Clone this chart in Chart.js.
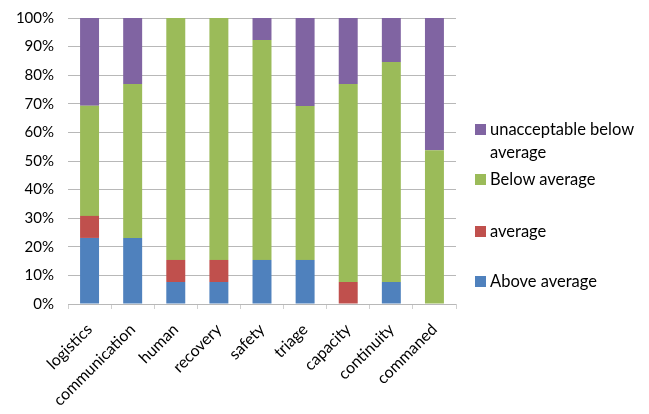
<!DOCTYPE html>
<html>
<head>
<meta charset="utf-8">
<script src="https://cdn.jsdelivr.net/npm/chart.js@4"></script>
<style>
  body { margin: 0; background: #fff; }
  #wrap { position: relative; width: 649px; height: 414px; overflow: hidden; }
  #chart { position: absolute; left: 0; top: -5px; }
  #legend { position: absolute; left: 475px; top: 0; font-family: Lato, "Open Sans", sans-serif; font-size: 16.5px; color: #000; }
  .item { position: absolute; left: 0; width: 172px; padding-left: 15px; line-height: 23px; }
  .item span { position: absolute; left: 0; top: 6px; width: 11px; height: 11px; }
</style>
</head>
<body>
<div id="wrap">
  <canvas id="chart" width="649" height="419"></canvas>
  <div id="legend"></div>
</div>
<script>
const categories = ["logistics", "communication", "human", "recovery", "safety", "triage", "capacity", "continuity", "commaned"];
const aboveAverage = [23.1, 23.1, 7.7, 7.7, 15.4, 15.4, 0, 7.7, 0];
const average = [7.7, 0, 7.7, 7.7, 0, 0, 7.7, 0, 0];
const belowAverage = [38.5, 53.8, 84.6, 84.6, 76.9, 53.8, 69.2, 76.9, 53.8];
const unacceptable = [30.8, 23.1, 0, 0, 7.7, 30.8, 23.1, 15.4, 46.2];
const yTicks = [0, 10, 20, 30, 40, 50, 60, 70, 80, 90, 100];

const series = [
    { label: "Above average", data: aboveAverage, color: "#4F81BD", top: 270 },
    { label: "average", data: average, color: "#C0504D", top: 220 },
    { label: "Below average", data: belowAverage, color: "#9BBB59", top: 168 },
    { label: "unacceptable below average", data: unacceptable, color: "#8064A2", top: 118 }
];

// legend on the right, spaced like the original
const legend = document.getElementById("legend");
series.forEach(s => {
    const d = document.createElement("div");
    d.className = "item";
    d.style.top = s.top + "px";
    d.innerHTML = '<span style="background:' + s.color + '"></span>' + s.label;
    legend.appendChild(d);
});

const yFont = { family: "Lato, 'Open Sans', sans-serif", size: 15 };
const xFont = { family: "Lato, 'Open Sans', sans-serif", size: 16 };

new Chart(document.getElementById("chart").getContext("2d"), {
    type: "bar",
    data: {
        labels: categories,
        datasets: series.map(s => ({
            label: s.label,
            data: s.data,
            backgroundColor: s.color,
            barPercentage: 0.44,
            categoryPercentage: 1
        }))
    },
    options: {
        responsive: false,
        animation: false,
        layout: { padding: { top: 3, right: 193, left: 0, bottom: 0 } },
        plugins: {
            legend: { display: false },
            tooltip: { enabled: false }
        },
        scales: {
            x: {
                stacked: true,
                border: { display: false },
                grid: { offset: true, drawOnChartArea: false, tickLength: 5, color: "#cfcfcf" },
                ticks: { font: xFont, color: "#000", minRotation: 45, maxRotation: 45, padding: 11 },
                afterFit: s => { s.height = 110; }
            },
            y: {
                stacked: true,
                min: 0,
                max: 100,
                border: { display: false },
                grid: { color: "#b8b8b8", drawTicks: false },
                afterBuildTicks: s => { s.ticks = yTicks.map(v => ({ value: v })); },
                ticks: { font: yFont, color: "#000", padding: 14, callback: v => v + "%" },
                afterFit: s => { s.width = 68; }
            }
        }
    }
});
</script>
</body>
</html>
